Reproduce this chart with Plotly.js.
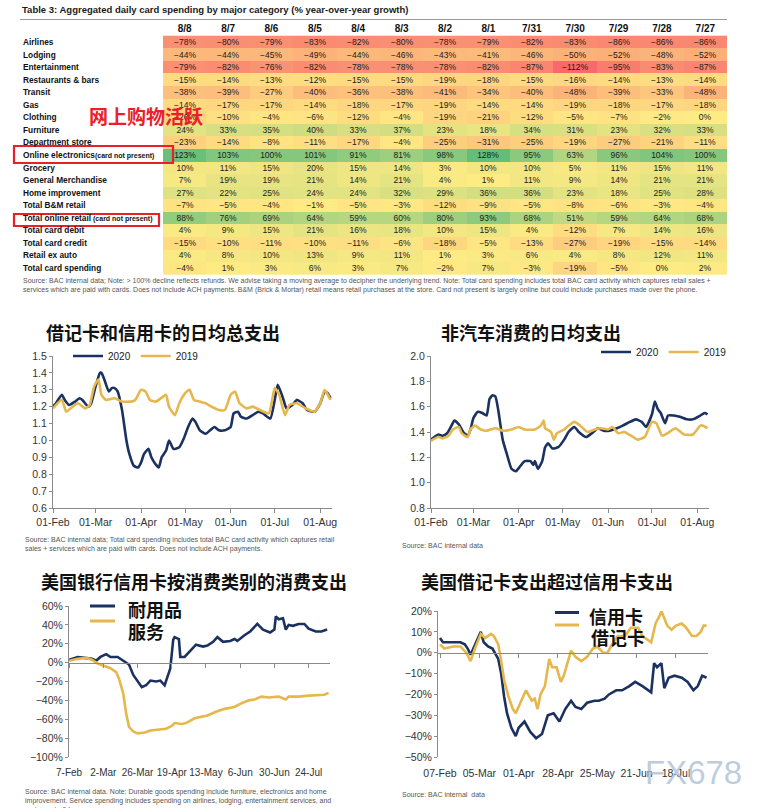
<!DOCTYPE html>
<html><head><meta charset="utf-8">
<script src="https://cdn.plot.ly/plotly-3.0.1.min.js"></script>
<style>html,body{margin:0;padding:0;background:#fff;}#chart{width:772px;height:808px;}</style>
</head><body><div id="chart"></div>
<script>
// ---------- Table data ----------
const columns = ['8/8','8/7','8/6','8/5','8/4','8/3','8/2','8/1','7/31','7/30','7/29','7/28','7/27'];
const rows = ['Airlines','Lodging','Entertainment','Restaurants & bars','Transit','Gas','Clothing','Furniture','Department store','Online electronics','Grocery','General Merchandise','Home improvement','Total B&M retail','Total online retail','Total card debit','Total card credit','Retail ex auto','Total card spending'];
const rowNotes = ['','','','','','','','','','(card not present)','','','','',' (card not present)','','','',''];
const tableValues = [
  [-78,-80,-79,-83,-82,-80,-78,-79,-82,-83,-86,-86,-86],
  [-44,-44,-45,-49,-44,-46,-43,-41,-46,-50,-52,-48,-52],
  [-79,-82,-76,-82,-78,-78,-78,-82,-87,-112,-95,-83,-87],
  [-15,-14,-13,-12,-15,-15,-19,-18,-15,-16,-14,-13,-14],
  [-38,-39,-27,-40,-36,-38,-41,-34,-40,-48,-39,-33,-48],
  [-14,-17,-17,-14,-18,-17,-19,-14,-14,-19,-18,-17,-18],
  [-20,-10,-4,-6,-12,-4,-19,-21,-12,-5,-7,-2,0],
  [24,33,35,40,33,37,23,18,34,31,23,32,33],
  [-23,-14,-8,-11,-17,-4,-25,-31,-25,-19,-27,-21,-11],
  [123,103,100,101,91,81,98,128,95,63,96,104,100],
  [10,11,15,20,15,14,3,10,10,5,11,15,11],
  [7,19,19,21,14,21,4,1,11,9,14,21,21],
  [27,22,25,24,24,32,29,36,36,23,18,25,28],
  [-7,-5,-4,-1,-5,-3,-12,-9,-5,-8,-6,-3,-4],
  [88,76,69,64,59,60,80,93,68,51,59,64,68],
  [4,9,15,21,16,18,10,15,4,-12,7,14,16],
  [-15,-10,-11,-10,-11,-6,-18,-5,-13,-27,-19,-15,-14],
  [4,8,10,13,9,11,1,3,6,4,8,12,11],
  [-4,1,3,6,3,7,-2,7,-3,-19,-5,0,2]
];

// ---------- Chart 1: total daily debit + credit spending ----------
const total2020Dates = ['02-01','02-03','02-07','02-09','02-12','02-16','02-19','02-21','02-25','02-27','03-01','03-04','03-05','03-07','03-10','03-12','03-14','03-16','03-19','03-22','03-24','03-27','03-30','04-01','04-03','04-06','04-08','04-10','04-13','04-15','04-18','04-20','04-23','04-27','04-30','05-03','05-06','05-08','05-11','05-15','05-18','05-21','05-24','05-28','06-01','06-03','06-06','06-08','06-12','06-16','06-20','06-23','06-28','07-01','07-03','07-05','07-07','07-09','07-13','07-16','07-20','07-23','07-28','08-01','08-04','08-06','08-08'];
const total2020 = [1.20,1.22,1.27,1.24,1.21,1.23,1.25,1.24,1.20,1.22,1.32,1.40,1.40,1.36,1.29,1.31,1.31,1.29,1.18,1.00,0.92,0.85,0.84,0.87,0.92,0.95,0.90,0.87,0.84,0.90,0.94,1.00,0.95,0.96,1.01,1.08,1.13,1.11,1.06,1.04,1.06,1.08,1.06,1.06,1.08,1.16,1.17,1.14,1.13,1.15,1.17,1.16,1.13,1.24,1.33,1.29,1.24,1.19,1.21,1.24,1.22,1.18,1.17,1.22,1.29,1.28,1.25];
const total2019Dates = ['02-01','02-07','02-10','02-13','02-18','02-23','02-26','02-29','03-03','03-05','03-08','03-14','03-19','03-25','03-28','04-01','04-04','04-07','04-11','04-16','04-18','04-20','04-24','04-27','05-01','05-04','05-07','05-11','05-15','05-19','05-24','05-28','06-01','06-04','06-07','06-12','06-16','06-21','06-27','07-01','07-04','07-08','07-11','07-16','07-22','07-28','08-01','08-04','08-08'];
const total2019 = [1.19,1.24,1.17,1.19,1.22,1.19,1.21,1.32,1.36,1.27,1.24,1.25,1.23,1.23,1.24,1.30,1.29,1.24,1.23,1.26,1.27,1.20,1.15,1.22,1.28,1.30,1.24,1.23,1.22,1.20,1.18,1.18,1.27,1.29,1.22,1.19,1.20,1.18,1.16,1.31,1.27,1.15,1.21,1.22,1.19,1.17,1.22,1.30,1.24];

// ---------- Chart 2: non-auto daily spending ----------
const nonAuto2020Dates = ['02-01','02-06','02-09','02-12','02-15','02-17','02-20','02-23','02-26','02-28','03-01','03-04','03-07','03-10','03-12','03-14','03-16','03-18','03-21','03-24','03-27','03-30','04-02','04-05','04-09','04-11','04-12','04-14','04-17','04-19','04-21','04-24','04-28','05-02','05-05','05-09','05-12','05-17','05-22','05-25','05-29','06-02','06-07','06-11','06-16','06-20','06-24','06-27','07-01','07-03','07-05','07-07','07-10','07-12','07-16','07-20','07-25','07-29','08-03','08-06','08-08'];
const nonAuto2020 = [1.34,1.38,1.37,1.39,1.45,1.49,1.46,1.40,1.37,1.42,1.51,1.56,1.55,1.53,1.66,1.69,1.68,1.57,1.34,1.22,1.11,1.09,1.13,1.17,1.17,1.14,1.17,1.11,1.17,1.28,1.31,1.27,1.28,1.34,1.40,1.44,1.40,1.36,1.40,1.43,1.41,1.41,1.43,1.45,1.48,1.50,1.48,1.44,1.54,1.64,1.58,1.55,1.47,1.53,1.53,1.52,1.50,1.50,1.53,1.55,1.54];
const nonAuto2019Dates = ['02-01','02-06','02-09','02-13','02-16','02-20','02-22','02-26','02-28','03-02','03-06','03-10','03-16','03-21','03-27','04-01','04-05','04-12','04-16','04-18','04-19','04-23','04-25','04-27','05-02','05-05','05-09','05-13','05-18','05-23','05-27','06-01','06-04','06-08','06-12','06-17','06-21','06-26','07-01','07-04','07-08','07-13','07-17','07-23','07-29','08-03','08-05','08-08'];
const nonAuto2019 = [1.33,1.36,1.35,1.37,1.42,1.44,1.39,1.36,1.42,1.45,1.42,1.41,1.43,1.41,1.42,1.44,1.42,1.42,1.45,1.49,1.43,1.40,1.34,1.39,1.42,1.45,1.48,1.45,1.40,1.42,1.43,1.42,1.44,1.39,1.40,1.37,1.34,1.36,1.48,1.47,1.37,1.40,1.43,1.38,1.38,1.45,1.45,1.43];

// ---------- Chart 3: credit card spending by category (%) ----------
const durableDates = ['02-07','02-11','02-13','02-18','02-23','02-26','02-29','03-04','03-07','03-12','03-16','03-20','03-23','03-26','03-29','04-01','04-04','04-08','04-11','04-14','04-16','04-18','04-20','04-21','04-24','04-25','04-28','05-01','05-06','05-11','05-14','05-18','05-21','05-25','05-30','06-02','06-04','06-09','06-13','06-18','06-22','06-27','06-30','07-01','07-03','07-06','07-08','07-10','07-13','07-17','07-21','07-24','07-29','08-02','08-06'];
const durable = [3,5,6,5,4,2,6,9,6,6,2,-2,-13,-20,-26,-24,-19,-20,-19,-24,-15,-6,24,27,25,6,6,11,19,17,18,22,27,22,23,25,23,29,33,41,35,32,35,49,46,47,35,40,39,41,41,36,33,33,35];
const servicesDates = ['02-07','02-13','02-19','02-23','02-27','03-03','03-07','03-11','03-13','03-16','03-18','03-20','03-23','03-26','03-31','04-04','04-11','04-15','04-19','04-21','04-26','04-29','05-05','05-10','05-14','05-20','05-26','06-02','06-07','06-12','06-16','06-21','06-26','07-03','07-08','07-10','07-17','07-24','07-31','08-04','08-07'];
const services = [2,4,5,3,-1,-4,-6,-10,-17,-33,-54,-68,-73,-75,-74,-72,-71,-70,-67,-64,-65,-64,-59,-57,-56,-52,-49,-47,-43,-40,-39,-36,-37,-36,-39,-36,-36,-35,-34,-34,-32];

// ---------- Chart 4: debit vs credit (%) ----------
const creditDates = ['02-07','02-09','02-13','02-17','02-21','02-24','02-26','02-28','03-02','03-04','03-06','03-08','03-11','03-14','03-18','03-20','03-22','03-24','03-27','03-30','04-01','04-05','04-09','04-13','04-17','04-21','04-25','04-29','05-03','05-07','05-10','05-14','05-18','05-23','05-26','05-30','06-02','06-07','06-11','06-16','06-20','06-25','07-01','07-03','07-05','07-08','07-10','07-13','07-17','07-22','07-26','07-30','08-02','08-05','08-08'];
const credit = [7,5,5,5,5,4,2,-1,4,7,10,5,3,2,-3,-10,-21,-29,-36,-40,-36,-33,-38,-41,-39,-30,-29,-33,-27,-23,-26,-27,-24,-23,-23,-22,-20,-18,-18,-16,-14,-16,-19,-5,-7,-5,-17,-12,-11,-12,-14,-18,-16,-11,-12];
const debitDates = ['02-07','02-10','02-16','02-21','02-25','02-28','03-02','03-04','03-06','03-09','03-13','03-15','03-18','03-20','03-22','03-25','03-28','03-30','04-03','04-06','04-10','04-12','04-14','04-16','04-19','04-22','04-24','04-27','04-30','05-02','05-07','05-10','05-14','05-18','05-22','05-25','05-29','06-01','06-05','06-08','06-13','06-17','06-22','06-25','07-01','07-04','07-07','07-08','07-12','07-15','07-18','07-22','07-25','07-29','08-01','08-04','08-06','08-08'];
const debit = [4,2,3,3,0,-4,2,6,9,7,9,8,4,-4,-13,-21,-27,-29,-23,-18,-23,-22,-27,-20,-16,-3,-7,-7,-14,-11,1,-2,-4,-2,2,3,0,0,5,8,8,12,12,8,5,14,18,20,13,11,13,14,12,8,8,10,13,13];

// ---------- helpers ----------
const W = 772, H = 808;
const X = p => p / W;
const Y = p => 1 - p / H;
const d = arr => arr.map(s => '2020-' + s);
const DAY = 86400000;
const NAVY = '#1b3160', GOLD = '#e5b74c';
const LAT = 'Liberation Sans, Arial, sans-serif';
const CJK = '"Noto Sans CJK SC", sans-serif';

const flat = tableValues.flat();
const zmin = Math.min(...flat), zmax = Math.max(...flat);
const mid = (0 - zmin) / (zmax - zmin);

const lineStyle = c => ({color: c, width: 2.6, shape: 'spline', smoothing: 0.5});

const traces = [
  {type: 'heatmap', x: columns, y: rows, z: tableValues, xaxis: 'x', yaxis: 'y',
   colorscale: [[0, '#F8696B'], [mid, '#FFEB84'], [1, '#63BE7B']], zmin: zmin, zmax: zmax,
   showscale: false, texttemplate: '%{z}%', textfont: {size: 8.5, color: '#1a1a1a', family: LAT},
   hoverinfo: 'skip', xgap: 0, ygap: 0},
  {type: 'scatter', mode: 'lines', name: '2020', x: d(total2020Dates), y: total2020, xaxis: 'x2', yaxis: 'y2', line: lineStyle(NAVY), legend: 'legend'},
  {type: 'scatter', mode: 'lines', name: '2019', x: d(total2019Dates), y: total2019, xaxis: 'x2', yaxis: 'y2', line: lineStyle(GOLD), legend: 'legend'},
  {type: 'scatter', mode: 'lines', name: '2020', x: d(nonAuto2020Dates), y: nonAuto2020, xaxis: 'x3', yaxis: 'y3', line: lineStyle(NAVY), legend: 'legend2'},
  {type: 'scatter', mode: 'lines', name: '2019', x: d(nonAuto2019Dates), y: nonAuto2019, xaxis: 'x3', yaxis: 'y3', line: lineStyle(GOLD), legend: 'legend2'},
  {type: 'scatter', mode: 'lines', name: '耐用品', x: d(durableDates), y: durable, xaxis: 'x4', yaxis: 'y4', line: {color: NAVY, width: 2.6}, showlegend: false},
  {type: 'scatter', mode: 'lines', name: '服务', x: d(servicesDates), y: services, xaxis: 'x4', yaxis: 'y4', line: {color: GOLD, width: 2.6}, showlegend: false},
  {type: 'scatter', mode: 'lines', name: '信用卡', x: d(creditDates), y: credit, xaxis: 'x5', yaxis: 'y5', line: {color: NAVY, width: 2.6}, showlegend: false},
  {type: 'scatter', mode: 'lines', name: '借记卡', x: d(debitDates), y: debit, xaxis: 'x5', yaxis: 'y5', line: {color: GOLD, width: 2.6}, showlegend: false}
];

const tickFont = {family: LAT, size: 10.5, color: '#333'};
const baseX = {type: 'date', showgrid: false, zeroline: false, showline: true, linecolor: '#8a8a8a', linewidth: 1,
  ticks: 'outside', ticklen: 4, tickcolor: '#8a8a8a', tickfont: tickFont, tickangle: 0, fixedrange: true};
const baseY = {showgrid: false, zeroline: false, showline: true, linecolor: '#8a8a8a', linewidth: 1,
  ticks: 'outside', ticklen: 3, tickcolor: '#8a8a8a', tickfont: tickFont, fixedrange: true};

const y4dom = [Y(757), Y(606)], y4range = [-100, 60];
const y5dom = [Y(757), Y(611)], y5range = [-50, 20];
const zeroPos = (dom, r) => dom[0] + (0 - r[0]) / (r[1] - r[0]) * (dom[1] - dom[0]);

const annotations = [];
const ann = o => annotations.push(Object.assign({showarrow: false, xref: 'paper', yref: 'paper', xanchor: 'left', yanchor: 'middle'}, o));

// table title
ann({x: X(20), y: Y(9), text: '<b>Table 3: Aggregated daily card spending by major category (% year-over-year growth)</b>',
  font: {family: LAT, size: 9.5, color: '#1a1a1a'}});
// row labels
rows.forEach((r, i) => {
  const note = rowNotes[i] ? '<span style="font-size:7px">' + rowNotes[i] + '</span>' : '';
  ann({x: X(21), yref: 'y', y: r, text: '<b>' + r + note + '</b>', font: {family: LAT, size: 8.3, color: '#111'}});
});
// red callout
ann({x: X(87), y: Y(115), text: '网上购物活跃', font: {family: CJK, size: 19, color: '#e8202a', weight: 'bold'}});
// table source
ann({x: X(21), y: Y(285), align: 'left',
  text: 'Source: BAC internal data; Note: > 100% decline reflects refunds. We advise taking a moving average to decipher the underlying trend. Note: Total card spending includes total BAC card activity which captures retail sales +<br>services which are paid with cards. Does not include ACH payments. B&M (Brick & Mortar) retail means retail purchases at the store. Card not present is largely online but could include purchases made over the phone.',
  font: {family: LAT, size: 7, color: '#555'}});
// chart titles
const titleFont = {family: CJK, size: 18, color: '#111', weight: 'bold'};
ann({x: X(44), y: Y(332), text: '借记卡和信用卡的日均总支出', font: titleFont});
ann({x: X(439), y: Y(332), text: '非汽车消费的日均支出', font: titleFont});
ann({x: X(39), y: Y(581), text: '美国银行信用卡按消费类别的消费支出', font: titleFont});
ann({x: X(419), y: Y(581), text: '美国借记卡支出超过信用卡支出', font: titleFont});
// chart sources
const srcFont = {family: LAT, size: 7, color: '#555'};
ann({x: X(23), y: Y(544), align: 'left', text: 'Source: BAC internal data; Total card spending includes total BAC card activity which captures retail<br>sales + services which are paid with cards. Does not include ACH payments.', font: srcFont});
ann({x: X(400), y: Y(545), text: 'Source: BAC internal data', font: srcFont});
ann({x: X(23), y: Y(800), align: 'left', text: 'Source: BAC internal data. Note: Durable goods spending include furniture, electronics and home<br>improvement. Service spending includes spending on airlines, lodging, entertainment services, and<br>restaurants & bars', font: srcFont});
ann({x: X(400), y: Y(794), text: 'Source: BAC internal  data', font: srcFont});
// bottom legends text
const legFont = {family: CJK, size: 18, color: '#111', weight: 'bold'};
ann({x: X(126), y: Y(609), text: '耐用品', font: legFont});
ann({x: X(126), y: Y(631), text: '服务', font: legFont});
ann({x: X(587), y: Y(616), text: '信用卡', font: legFont});
ann({x: X(589), y: Y(637), text: '借记卡', font: legFont});
// watermark
ann({x: X(643), y: Y(772), text: 'FX678', font: {family: LAT, size: 33, color: 'rgba(170,188,212,0.75)'}});

const shapes = [
  {type: 'line', xref: 'paper', yref: 'paper', x0: X(20), x1: X(727), y0: Y(19.5), y1: Y(19.5), line: {color: '#9a9a9a', width: 1}},
  {type: 'rect', xref: 'paper', yref: 'paper', x0: X(14), x1: X(173), y0: Y(163), y1: Y(146), line: {color: '#e8202a', width: 2.2}},
  {type: 'rect', xref: 'paper', yref: 'paper', x0: X(14), x1: X(159), y0: Y(226), y1: Y(214), line: {color: '#e8202a', width: 2.2}},
  {type: 'line', xref: 'paper', yref: 'paper', x0: X(90), x1: X(115), y0: Y(606), y1: Y(606), line: {color: NAVY, width: 3}},
  {type: 'line', xref: 'paper', yref: 'paper', x0: X(90), x1: X(115), y0: Y(621), y1: Y(621), line: {color: GOLD, width: 3}},
  {type: 'line', xref: 'paper', yref: 'paper', x0: X(555), x1: X(579), y0: Y(612.5), y1: Y(612.5), line: {color: NAVY, width: 3}},
  {type: 'line', xref: 'paper', yref: 'paper', x0: X(555), x1: X(579), y0: Y(625), y1: Y(625), line: {color: GOLD, width: 3}}
];

const legendBase = {orientation: 'h', xanchor: 'left', yanchor: 'middle', bgcolor: 'rgba(0,0,0,0)',
  font: {family: LAT, size: 10, color: '#222'}, itemwidth: 30, tracegroupgap: 0};

const layout = {
  width: W, height: H, margin: {l: 0, r: 0, t: 0, b: 0}, paper_bgcolor: '#fff', plot_bgcolor: 'rgba(0,0,0,0)',
  hovermode: false, showlegend: true,
  xaxis: {domain: [X(163), X(727)], anchor: 'y', side: 'top', type: 'category', ticks: '', showline: false, showgrid: false, zeroline: false,
    tickfont: {family: LAT, size: 10, color: '#111', weight: 'bold'}, fixedrange: true},
  yaxis: {domain: [Y(275), Y(35)], anchor: 'x', type: 'category', autorange: 'reversed', showticklabels: false, showgrid: false, zeroline: false, ticks: '', fixedrange: true},

  xaxis2: Object.assign({}, baseX, {domain: [X(53), X(332)], anchor: 'y2', range: ['2020-02-01', '2020-08-09'], tick0: '2020-02-01', dtick: 'M1', tickformat: '%d-%b'}),
  yaxis2: Object.assign({}, baseY, {domain: [Y(508), Y(356)], anchor: 'x2', range: [0.6, 1.5], dtick: 0.1, tickformat: '.1f'}),

  xaxis3: Object.assign({}, baseX, {domain: [X(431), X(709)], anchor: 'y3', range: ['2020-02-01', '2020-08-09'], tick0: '2020-02-01', dtick: 'M1', tickformat: '%d-%b'}),
  yaxis3: Object.assign({}, baseY, {domain: [Y(508), Y(356)], anchor: 'x3', range: [0.8, 2.0], dtick: 0.2, tickformat: '.1f'}),

  xaxis4: Object.assign({}, baseX, {domain: [X(69), X(330)], anchor: 'free', position: zeroPos(y4dom, y4range),
    range: ['2020-02-06 22:00', '2020-08-08'], tick0: '2020-02-07', dtick: 24 * DAY, tickformat: '%-d-%b', ticklabelstandoff: 96,
    tickfont: {family: LAT, size: 10, color: '#333'}}),
  yaxis4: Object.assign({}, baseY, {domain: y4dom, anchor: 'x4', range: y4range, dtick: 20, ticksuffix: '%'}),

  xaxis5: Object.assign({}, baseX, {domain: [X(438), X(708)], anchor: 'free', position: zeroPos(y5dom, y5range),
    range: ['2020-02-05 15:00', '2020-08-09'], tick0: '2020-02-07', dtick: 27 * DAY, tickformat: '%d-%b', ticklabelstandoff: 107}),
  yaxis5: Object.assign({}, baseY, {domain: y5dom, anchor: 'x5', range: y5range, dtick: 10, ticksuffix: '%'}),

  legend: Object.assign({}, legendBase, {x: X(68), y: Y(356)}),
  legend2: Object.assign({}, legendBase, {x: X(596), y: Y(352)}),
  annotations: annotations,
  shapes: shapes
};

Plotly.newPlot('chart', traces, layout, {staticPlot: true, displayModeBar: false});
</script>
</body></html>
